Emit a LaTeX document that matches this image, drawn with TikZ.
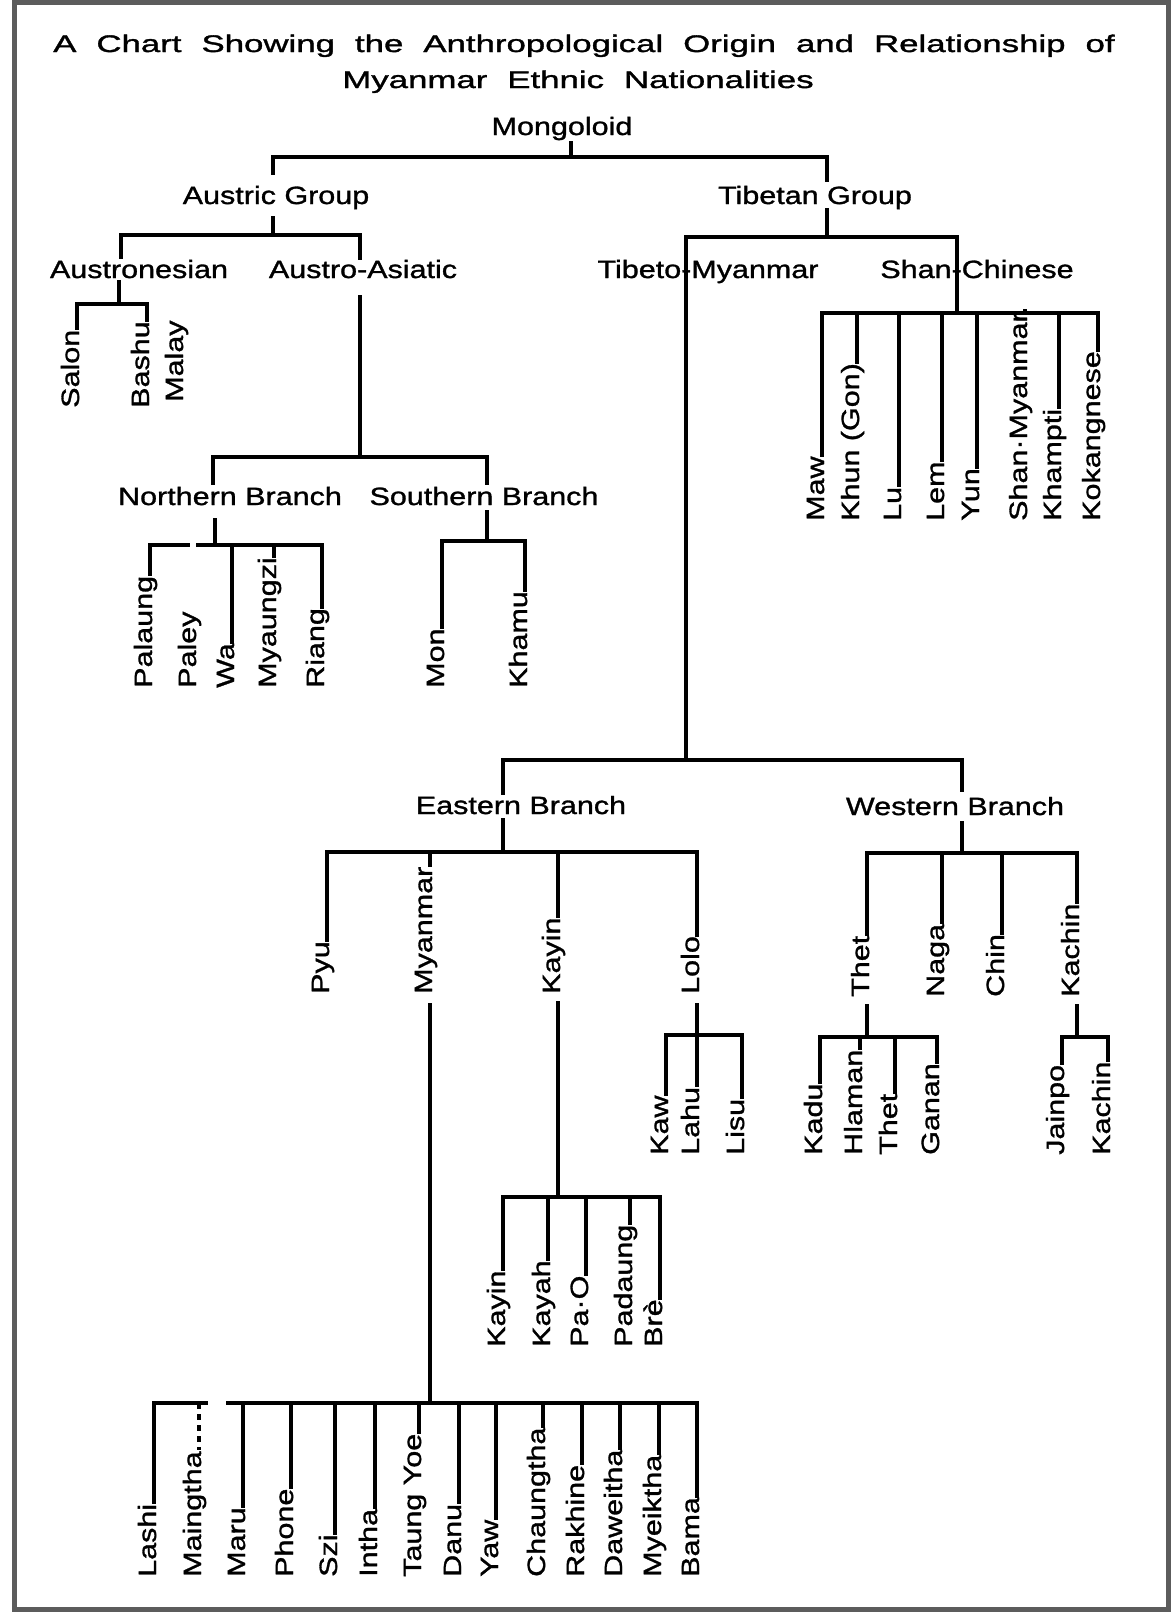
\documentclass[tikz,border=0pt]{standalone}
\usepackage{fontspec}
\setmainfont{Liberation Sans}
\newfontfamily\labfam[FakeStretch=1.22,FakeBold=1.2]{Liberation Sans}
\newfontfamily\ttlfam[FakeStretch=1.45,FakeBold=1.4]{Liberation Sans}
\definecolor{framegray}{RGB}{92,92,92}
\newcommand\labfont{\labfam\fontsize{25}{28}\selectfont}
\newcommand\ttlfont{\ttlfam\fontsize{24}{28}\selectfont\spaceskip=20pt\relax}
% leaf: name, x of line, y of bar, y of text bottom, text
\newcommand\leaf[5]{%
  \coordinate (#1c) at (#2,#3);
  \node[vlab] (#1) at (#2+2,#4) {#5};
  \draw[tl] (#1c) -- (#1c |- #1.east);}
\begin{document}
\begin{tikzpicture}[x=1pt,y=-1pt,
  tl/.style={line width=3.4pt,line cap=rect,black},
  hlab/.style={font=\labfont,anchor=base,inner sep=2pt},
  vlab/.style={font=\labfont,rotate=90,anchor=base west,inner sep=1pt}]
\fill[white] (0,0) rectangle (1171,1612);
\useasboundingbox (0,0) rectangle (1171,1612);
\draw[line width=5pt,framegray] (14.5,2.5) rectangle (1168.5,1609.5);

% title
\node[anchor=base,inner sep=0pt,font=\ttlfont] (title1) at (584,52) {A Chart Showing the Anthropological Origin and Relationship of};
\node[anchor=base,inner sep=0pt,font=\ttlfont] (title2) at (578,88) {Myanmar Ethnic Nationalities};

% horizontal labels
\node[hlab] (mong) at (562,135) {Mongoloid};
\node[hlab] (austric) at (276,204) {Austric Group};
\node[hlab] (tibetan) at (815,204) {Tibetan Group};
\node[hlab] (austron) at (139,278) {Austronesian};
\node[hlab] (austroa) at (363,278) {Austro-Asiatic};
\node[hlab] (tibmy) at (708,278) {Tibeto-Myanmar};
\node[hlab] (shanch) at (977,278) {Shan-Chinese};
\node[hlab] (north) at (230,505) {Northern Branch};
\node[hlab] (south) at (484,505) {Southern Branch};
\node[hlab] (east) at (521,814) {Eastern Branch};
\node[hlab] (west) at (955,815) {Western Branch};

% Mongoloid
\coordinate (topbarL) at (273,157);
\coordinate (topbarR) at (827,157);
\coordinate (topbarM) at (571,157);
\draw[tl] (topbarM |- mong.south) -- (topbarM);
\draw[tl] (topbarL) -- (topbarR);
\draw[tl] (topbarL) -- ++(0,16);
\draw[tl] (topbarR) -- ++(0,23);

% Austric Group
\coordinate (abar) at (273,235);
\coordinate (abarL) at (121,235);
\coordinate (abarR) at (360,235);
\draw[tl] (abar) -- ++(0,-17);
\draw[tl] (abarL) -- (abarR);
\draw[tl] (abarL) -- ++(0,22);
\draw[tl] (abarR) -- ++(0,23);

% Tibetan Group
\coordinate (tbar) at (827,237);
\coordinate (tbarL) at (686,237);
\coordinate (tbarR) at (957,237);
\draw[tl] (tbar) -- ++(0,-27);
\draw[tl] (tbarL) -- (tbarR);
\coordinate (ewM) at (686,760);
\draw[tl] (tbarL) -- (ewM);
\coordinate (sbar) at (957,313);
\draw[tl] (tbarR) -- (sbar);

% Austronesian
\coordinate (anbar) at (119,304);
\draw[tl] (anbar) -- ++(0,-22);
\leaf{salon}{77}{304}{409}{Salon}
\leaf{bashu}{147}{304}{409}{Bashu}
\node[vlab] (malay) at (183,403) {Malay};
\draw[tl] (salonc) -- (bashuc);

% Austro-Asiatic
\coordinate (aabar) at (360,457);
\draw[tl] (aabar) -- ++(0,-160);
\coordinate (nsL) at (213,457);
\coordinate (nsR) at (487,457);
\draw[tl] (nsL) -- (nsR);
\draw[tl] (nsL) -- ++(0,26);
\draw[tl] (nsR) -- ++(0,26);

% Northern Branch
\coordinate (nbar) at (215,545);
\draw[tl] (nbar) -- ++(0,-25);
\leaf{palaung}{150}{545}{689}{Palaung}
\node[vlab] (paley) at (196,689) {Paley};
\leaf{wa}{232}{545}{689}{Wa}
\leaf{myaungzi}{274}{545}{689}{Myaungzi}
\leaf{riang}{322}{545}{689}{Riang}
\coordinate (ngapL) at (188,545);
\coordinate (ngapR) at (198,545);
\draw[tl] (palaungc) -- (ngapL);
\draw[tl] (ngapR) -- (riangc);

% Southern Branch
\coordinate (sobar) at (487,541);
\draw[tl] (sobar) -- ++(0,-29);
\leaf{mon}{442}{541}{689}{Mon}
\leaf{khamu}{525}{541}{689}{Khamu}
\draw[tl] (monc) -- (khamuc);

% Shan-Chinese
\leaf{maw}{822}{313}{522}{Maw}
\leaf{khun}{857}{313}{522}{Khun (Gon)}
\leaf{lu}{899}{313}{522}{Lu}
\leaf{lem}{942}{313}{522}{Lem}
\leaf{yun}{977}{313}{522}{Yun}
\leaf{shanmy}{1025}{313}{522}{Shan·Myanmar}
\leaf{khampti}{1059}{313}{522}{Khampti}
\leaf{kokang}{1098}{313}{522}{Kokangnese}
\draw[tl] (mawc) -- (kokangc);

% Eastern / Western
\coordinate (ewL) at (503,760);
\coordinate (ewR) at (962,760);
\draw[tl] (ewL) -- (ewR);
\draw[tl] (ewL) -- ++(0,33);
\draw[tl] (ewR) -- ++(0,30);

% Eastern Branch
\coordinate (ebar) at (503,852);
\draw[tl] (ebar) -- ++(0,-32);
\leaf{pyu}{327}{852}{995}{Pyu}
\leaf{myan}{430}{852}{995}{Myanmar}
\leaf{kayinp}{558}{852}{995}{Kayin}
\leaf{lolo}{697}{852}{995}{Lolo}
\draw[tl] (pyuc) -- (loloc);

% Western Branch
\coordinate (wbar) at (962,853);
\draw[tl] (wbar) -- ++(0,-30);
\leaf{thetp}{867}{853}{998}{Thet}
\leaf{naga}{942}{853}{998}{Naga}
\leaf{chin}{1002}{853}{998}{Chin}
\leaf{kachinp}{1077}{853}{998}{Kachin}
\draw[tl] (thetpc) -- (kachinpc);

% Myanmar subtree
\coordinate (mbar) at (430,1403);
\draw[tl] (myan.west -| mbar) ++(0,10) -- (mbar);
\leaf{lashi}{154}{1403}{1578}{Lashi}
\coordinate (maingc) at (199,1403);
\coordinate (maingend) at (206,1403);
\node[vlab] (maing) at (201,1578) {Maingtha};
\draw[tl,line cap=butt,dash pattern=on 6pt off 5pt] (maingc) -- (maingc |- maing.east);
\draw[tl] (lashic) -- (maingend);
\coordinate (mbarL) at (228,1403);
\leaf{maru}{243}{1403}{1578}{Maru}
\leaf{phone}{291}{1403}{1578}{Phone}
\leaf{szi}{335}{1403}{1578}{Szi}
\leaf{intha}{375}{1403}{1578}{Intha}
\leaf{taungyoe}{419}{1403}{1578}{Taung Yoe}
\leaf{danu}{459}{1403}{1578}{Danu}
\leaf{yaw}{496}{1403}{1578}{Yaw}
\leaf{chaungtha}{543}{1403}{1578}{Chaungtha}
\leaf{rakhine}{582}{1403}{1578}{Rakhine}
\leaf{daweitha}{620}{1403}{1578}{Daweitha}
\leaf{myeiktha}{659}{1403}{1578}{Myeiktha}
\leaf{bama}{697}{1403}{1578}{Bama}
\draw[tl] (mbarL) -- (bamac);

% Kayin subtree
\coordinate (kbar) at (558,1197);
\draw[tl] (kayinp.west -| kbar) ++(0,8) -- (kbar);
\leaf{kayin}{503}{1197}{1348}{Kayin}
\leaf{kayah}{548}{1197}{1348}{Kayah}
\leaf{pao}{586}{1197}{1348}{Pa·O}
\leaf{padaung}{630}{1197}{1348}{Padaung}
\leaf{bre}{660}{1197}{1348}{Brè}
\draw[tl] (kayinc) -- (brec);

% Lolo subtree
\coordinate (lbar) at (697,1035);
\draw[tl] (lolo.west -| lbar) ++(0,10) -- (lbar);
\leaf{kaw}{666}{1035}{1156}{Kaw}
\leaf{lahu}{697}{1035}{1156}{Lahu}
\leaf{lisu}{742}{1035}{1156}{Lisu}
\draw[tl] (kawc) -- (lisuc);

% Thet subtree
\coordinate (thbar) at (867,1037);
\draw[tl] (thetp.west -| thbar) ++(0,8) -- (thbar);
\leaf{kadu}{820}{1037}{1156}{Kadu}
\leaf{hlaman}{860}{1037}{1156}{Hlaman}
\leaf{thet}{895}{1037}{1156}{Thet}
\leaf{ganan}{937}{1037}{1156}{Ganan}
\draw[tl] (kaduc) -- (gananc);

% Kachin subtree
\coordinate (kcbar) at (1077,1037);
\draw[tl] (kachinp.west -| kcbar) ++(0,8) -- (kcbar);
\leaf{jainpo}{1062}{1037}{1156}{Jainpo}
\leaf{kachin}{1108}{1037}{1156}{Kachin}
\draw[tl] (jainpoc) -- (kachinc);
\end{tikzpicture}
\end{document}
